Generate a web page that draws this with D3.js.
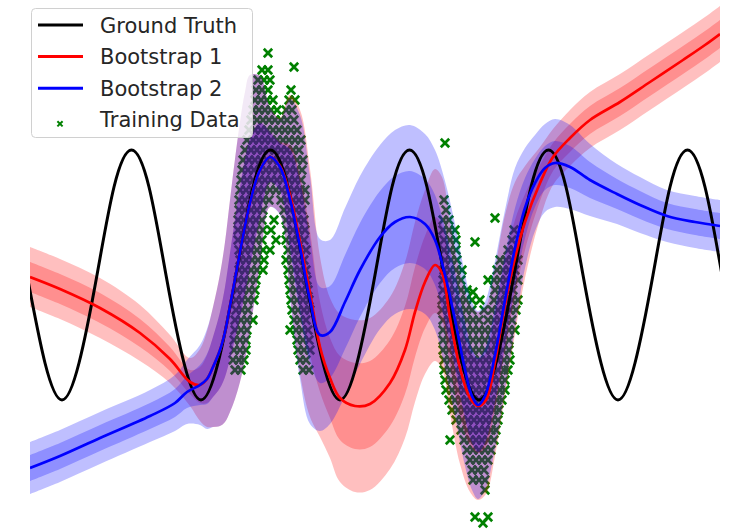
<!DOCTYPE html>
<html>
<head>
<meta charset="utf-8">
<script src="https://cdn.jsdelivr.net/npm/d3@7"></script>
<style>
  body { margin: 0; background: #fff; }
  svg { display: block; font-family: "DejaVu Sans", sans-serif; }
</style>
</head>
<body>
<div id="chart"></div>
<script>
// ground truth, sampled every eighth of a period
var truthX = [-3.48, -3.30, -3.13, -2.96, -2.78, -2.61, -2.435, -2.26, -2.09, -1.91, -1.74,
  -1.57, -1.39, -1.22, -1.045, -0.87, -0.70, -0.52, -0.35, -0.18, 0.00, 0.17, 0.345, 0.52,
  0.69, 0.87, 1.04, 1.21, 1.39, 1.56, 1.735, 1.91, 2.08, 2.26, 2.43, 2.60, 2.78, 2.95,
  3.125, 3.30, 3.47];
var truthY = [0, -0.88, -1.25, -0.88, 0, 0.88, 1.25, 0.88, 0, -0.88, -1.25,
  -0.88, 0, 0.88, 1.25, 0.88, 0, -0.88, -1.25, -0.88, 0, 0.88, 1.25, 0.88,
  0, -0.88, -1.25, -0.88, 0, 0.88, 1.25, 0.88, 0, -0.88, -1.25, -0.88, 0, 0.88,
  1.25, 0.88, 0];

// bootstrap 1 (red): mean and std
var boot1X = [-3.45, -3.15, -2.75, -2.35, -2.05, -1.85, -1.75, -1.68, -1.62, -1.55, -1.50,
  -1.45, -1.40, -1.35, -1.30, -1.25, -1.15, -1.05, -0.95, -0.85, -0.75, -0.65, -0.55,
  -0.45, -0.35, -0.20, -0.05, 0.15, 0.30, 0.40, 0.50, 0.60, 0.67, 0.75, 0.85, 0.95,
  1.03, 1.11, 1.20, 1.30, 1.40, 1.50, 1.65, 1.78, 1.95, 2.15, 2.45, 2.75, 3.08, 3.30, 3.45];
var boot1Mean = [-0.02, -0.14, -0.33, -0.58, -0.84, -1.07, -1.10, -1.04, -0.92, -0.75, -0.57,
  -0.31, -0.04, 0.23, 0.49, 0.72, 1.05, 1.18, 1.09, 0.80, 0.33, -0.18, -0.72,
  -1.03, -1.23, -1.31, -1.29, -1.08, -0.75, -0.37, -0.07, 0.10, 0.02, -0.43, -0.93, -1.23,
  -1.31, -1.25, -0.87, -0.30, 0.17, 0.53, 0.92, 1.18, 1.37, 1.55, 1.73, 1.93, 2.15, 2.30, 2.41];
var boot1Sd = [0.15, 0.15, 0.15, 0.14, 0.12, 0.12, 0.18, 0.24, 0.30, 0.38, 0.45,
  0.53, 0.60, 0.65, 0.67, 0.64, 0.47, 0.25, 0.24, 0.50, 0.66, 0.62, 0.45,
  0.40, 0.42, 0.43, 0.43, 0.43, 0.44, 0.45, 0.46, 0.48, 0.48, 0.48, 0.48, 0.47,
  0.47, 0.47, 0.47, 0.45, 0.38, 0.28, 0.18, 0.14, 0.14, 0.14, 0.14, 0.14, 0.14, 0.14, 0.14];

// bootstrap 2 (blue): mean and std
var boot2X = [-3.45, -3.15, -2.75, -2.25, -2.00, -1.88, -1.75, -1.68, -1.62, -1.55, -1.50,
  -1.45, -1.40, -1.35, -1.30, -1.25, -1.15, -1.05, -0.95, -0.85, -0.75, -0.65, -0.55,
  -0.45, -0.30, -0.15, 0.05, 0.20, 0.35, 0.50, 0.60, 0.70, 0.80, 0.90, 0.97, 1.03, 1.10,
  1.20, 1.30, 1.40, 1.50, 1.60, 1.70, 1.80, 1.95, 2.15, 2.42, 2.65, 2.92, 3.20, 3.45];
var boot2Mean = [-1.93, -1.81, -1.63, -1.41, -1.28, -1.17, -1.10, -1.04, -0.92, -0.75, -0.57,
  -0.31, -0.04, 0.23, 0.49, 0.72, 1.05, 1.18, 1.08, 0.76, 0.28, -0.25, -0.60,
  -0.57, -0.27, 0.05, 0.38, 0.53, 0.58, 0.51, 0.35, 0.00, -0.45, -0.95, -1.21, -1.30, -1.21,
  -0.80, -0.25, 0.27, 0.67, 0.92, 1.07, 1.12, 1.08, 0.95, 0.81, 0.70, 0.59, 0.53, 0.49];
var boot2Sd = [0.13, 0.13, 0.13, 0.13, 0.14, 0.16, 0.20, 0.25, 0.30, 0.38, 0.45,
  0.53, 0.60, 0.65, 0.67, 0.64, 0.47, 0.25, 0.24, 0.50, 0.66, 0.62, 0.48,
  0.46, 0.47, 0.47, 0.46, 0.46, 0.46, 0.45, 0.45, 0.47, 0.48, 0.48, 0.47, 0.47, 0.47,
  0.47, 0.45, 0.40, 0.30, 0.24, 0.22, 0.22, 0.21, 0.18, 0.15, 0.14, 0.13, 0.13, 0.13];

// training data, read row by row: [y, [x, x, ...]]
var trainRows1 = [
  [2.05, [-1.13, -1.07]],
  [1.95, [-1.17, -1.11, -1.05]],
  [1.85, [-1.19, -1.13, -1.07, -0.84]],
  [1.75, [-1.20, -1.14, -1.08, -1.02, -0.86, -0.80]],
  [1.65, [-1.22, -1.16, -1.10, -1.04, -0.98, -0.89, -0.83]],
  [1.55, [-1.24, -1.18, -1.12, -1.06, -1.00, -0.94, -0.88, -0.81]],
  [1.45, [-1.26, -1.20, -1.14, -1.08, -1.02, -0.96, -0.90, -0.84, -0.78]],
  [1.35, [-1.28, -1.22, -1.16, -1.10, -1.04, -0.98, -0.92, -0.86, -0.80, -0.74]],
  [1.25, [-1.30, -1.24, -1.18, -1.12, -1.06, -1.00, -0.94, -0.88, -0.82, -0.76]],
  [1.15, [-1.32, -1.26, -1.20, -1.14, -1.08, -1.02, -0.96, -0.90, -0.84, -0.78, -0.72]],
  [1.05, [-1.33, -1.27, -1.21, -1.15, -1.09, -1.03, -0.97, -0.91, -0.85, -0.79, -0.73]],
  [0.95, [-1.34, -1.28, -1.22, -1.16, -1.10, -1.04, -0.98, -0.92, -0.86, -0.80, -0.74]],
  [0.85, [-1.35, -1.29, -1.23, -1.17, -1.11, -1.05, -0.99, -0.93, -0.87, -0.81, -0.75, -0.70]],
  [0.75, [-1.36, -1.30, -1.24, -1.18, -1.12, -1.06, -0.94, -0.88, -0.82, -0.76, -0.70]],
  [0.65, [-1.36, -1.30, -1.24, -1.18, -1.12, -0.91, -0.85, -0.79, -0.73]],
  [0.55, [-1.37, -1.31, -1.25, -1.19, -1.13, -1.01, -0.89, -0.83, -0.77, -0.71]],
  [0.45, [-1.37, -1.31, -1.25, -1.19, -1.12, -1.04, -0.88, -0.82, -0.76, -0.70]],
  [0.35, [-1.37, -1.31, -1.25, -1.19, -1.13, -0.99, -0.89, -0.83, -0.77, -0.71]],
  [0.25, [-1.36, -1.30, -1.24, -1.18, -1.12, -1.05, -0.87, -0.81, -0.75, -0.69]],
  [0.15, [-1.35, -1.29, -1.23, -1.17, -1.11, -0.89, -0.83, -0.77, -0.71]],
  [0.05, [-1.36, -1.30, -1.24, -1.18, -1.12, -0.87, -0.81, -0.75, -0.69]],
  [-0.05, [-1.37, -1.31, -1.25, -1.19, -0.86, -0.80, -0.74, -0.68]],
  [-0.15, [-1.38, -1.32, -1.26, -1.20, -0.85, -0.79, -0.73, -0.67]],
  [-0.25, [-1.39, -1.33, -1.27, -1.21, -0.84, -0.78, -0.72, -0.66]],
  [-0.35, [-1.39, -1.33, -1.27, -0.83, -0.77, -0.71, -0.65]],
  [-0.45, [-1.40, -1.34, -1.28, -1.22, -0.81, -0.75, -0.69]],
  [-0.55, [-1.40, -1.34, -1.28, -0.85, -0.79, -0.73, -0.67]],
  [-0.65, [-1.41, -1.35, -1.29, -0.78, -0.72, -0.66]],
  [-0.75, [-1.41, -1.35, -1.29, -0.77, -0.71, -0.65]],
  [-0.85, [-1.42, -1.36, -1.31, -0.75, -0.69]],
  [-0.95, [-1.40, -1.34, -0.72, -0.66]]
];
var trainRows2 = [
  [0.75, [0.69]],
  [0.65, [0.71]],
  [0.55, [0.68, 0.74]],
  [0.45, [0.68, 0.74, 0.80, 1.39]],
  [0.35, [0.69, 0.75, 0.81, 1.37]],
  [0.25, [0.69, 0.75, 0.81, 1.33, 1.39]],
  [0.15, [0.70, 0.76, 0.82, 1.25, 1.31, 1.37, 1.43]],
  [0.05, [0.69, 0.75, 0.81, 0.87, 1.22, 1.28, 1.34, 1.40]],
  [-0.05, [0.68, 0.74, 0.80, 0.86, 1.13, 1.19, 1.25, 1.31, 1.37, 1.43]],
  [-0.15, [0.68, 0.74, 0.80, 0.86, 0.92, 1.20, 1.26, 1.32, 1.38]],
  [-0.25, [0.67, 0.73, 0.79, 0.85, 0.91, 0.97, 1.05, 1.19, 1.25, 1.31, 1.37, 1.43]],
  [-0.35, [0.67, 0.73, 0.79, 0.85, 0.91, 0.97, 1.09, 1.17, 1.23, 1.29, 1.35, 1.41]],
  [-0.45, [0.68, 0.74, 0.80, 0.86, 0.92, 0.98, 1.04, 1.13, 1.19, 1.25, 1.31, 1.37]],
  [-0.55, [0.68, 0.74, 0.80, 0.86, 0.92, 0.98, 1.04, 1.10, 1.16, 1.22, 1.28, 1.34, 1.40]],
  [-0.65, [0.68, 0.74, 0.80, 0.86, 0.92, 0.98, 1.04, 1.10, 1.16, 1.22, 1.28, 1.34]],
  [-0.75, [0.68, 0.74, 0.80, 0.86, 0.92, 0.98, 1.04, 1.10, 1.16, 1.22, 1.28, 1.34]],
  [-0.85, [0.69, 0.75, 0.81, 0.87, 0.93, 0.99, 1.05, 1.11, 1.17, 1.23, 1.29, 1.35]],
  [-0.95, [0.69, 0.75, 0.81, 0.87, 0.93, 0.99, 1.05, 1.11, 1.17, 1.23, 1.29, 1.33]],
  [-1.05, [0.70, 0.76, 0.82, 0.88, 0.94, 1.00, 1.06, 1.12, 1.18, 1.24, 1.30]],
  [-1.15, [0.71, 0.77, 0.83, 0.89, 0.95, 1.01, 1.07, 1.13, 1.19, 1.25, 1.30]],
  [-1.25, [0.74, 0.80, 0.86, 0.92, 0.98, 1.04, 1.10, 1.16, 1.22, 1.27]],
  [-1.35, [0.77, 0.83, 0.89, 0.95, 1.01, 1.07, 1.13, 1.19, 1.24]],
  [-1.45, [0.81, 0.87, 0.93, 0.99, 1.05, 1.11, 1.17, 1.23]],
  [-1.55, [0.86, 0.92, 0.98, 1.04, 1.10, 1.16, 1.21]],
  [-1.65, [0.75, 0.89, 0.95, 1.01, 1.07, 1.13, 1.19]],
  [-1.75, [0.92, 0.98, 1.04, 1.10, 1.16]],
  [-1.85, [0.95, 1.01, 1.07, 1.13]],
  [-1.95, [0.97, 1.03, 1.09]],
  [-2.05, [0.98, 1.04, 1.10]],
  [-2.15, [1.10]]
];
// isolated points
var trainExtra = [[-1.07, 2.22], [-0.81, 2.08], [0.70, 1.32], [1.20, 0.57], [1.00, 0.33],
  [0.98, -0.17], [1.00, -2.42], [1.08, -2.48], [1.13, -2.42]];

var legendLabels = ["Ground Truth", "Bootstrap 1", "Bootstrap 2", "Training Data"];
var legendColors = ["black", "red", "blue", "green"];

var width = 731,
  height = 530;

var svg = d3
  .select("#chart")
  .append("svg")
  .attr("width", width)
  .attr("height", height);

var x = d3.scaleLinear().domain([-3.45, 3.45]).range([30, 720]);
var y = d3.scaleLinear().domain([-2.55, 2.75]).range([530, 0]);
var smooth = d3.curveCatmullRom.alpha(0.5);

svg
  .append("clipPath")
  .attr("id", "plot-clip")
  .append("rect")
  .attr("x", 30)
  .attr("y", 0)
  .attr("width", 690)
  .attr("height", height);

var plot = svg.append("g").attr("clip-path", "url(#plot-clip)");

// training data first (lowest layer)
var trainPts = [];
trainRows1.concat(trainRows2).forEach(function (row) {
  row[1].forEach(function (xv) {
    trainPts.push([xv, row[0]]);
  });
});
trainExtra.forEach(function (p) {
  trainPts.push(p);
});

var xMark = function (s) {
  return "M" + -s + "," + -s + "L" + s + "," + s + "M" + -s + "," + s + "L" + s + "," + -s;
};

plot
  .append("g")
  .selectAll("path")
  .data(trainPts)
  .enter()
  .append("path")
  .attr("transform", function (d) {
    return "translate(" + x(d[0]) + "," + y(d[1]) + ")";
  })
  .attr("d", xMark(4.2))
  .attr("stroke", "green")
  .attr("stroke-width", 2.7)
  .attr("fill", "none");

// uncertainty bands (1 and 2 std)
function drawBands(xs, mean, sd, color) {
  var rows = xs.map(function (v, i) {
    return { x: v, m: mean[i], s: sd[i] };
  });
  [2, 1].forEach(function (k) {
    var area = d3
      .area()
      .curve(smooth)
      .x(function (d) {
        return x(d.x);
      })
      .y0(function (d) {
        return y(d.m - k * d.s);
      })
      .y1(function (d) {
        return y(d.m + k * d.s);
      });
    plot
      .append("path")
      .datum(rows)
      .attr("d", area)
      .attr("fill", color)
      .attr("fill-opacity", 0.25);
  });
}

drawBands(boot1X, boot1Mean, boot1Sd, "red");
drawBands(boot2X, boot2Mean, boot2Sd, "blue");

function drawLine(xs, ys, color, w, curve) {
  var line = d3
    .line()
    .curve(curve)
    .x(function (d) {
      return x(d[0]);
    })
    .y(function (d) {
      return y(d[1]);
    });
  plot
    .append("path")
    .datum(d3.zip(xs, ys))
    .attr("d", line)
    .attr("fill", "none")
    .attr("stroke", color)
    .attr("stroke-width", w);
}

drawLine(truthX, truthY, "black", 3, d3.curveNatural);
drawLine(boot1X, boot1Mean, "red", 2.7, smooth);
drawLine(boot2X, boot2Mean, "blue", 2.7, smooth);

// legend
var legend = svg.append("g").attr("class", "legend");

legend
  .append("rect")
  .attr("x", 31.5)
  .attr("y", 8.5)
  .attr("width", 221)
  .attr("height", 129)
  .attr("rx", 4)
  .attr("fill", "white")
  .attr("fill-opacity", 0.8)
  .attr("stroke", "#d0d0d0");

var ls_h = 31.6;

legendLabels.forEach(function (label, i) {
  var cy = 25 + ls_h * i;
  if (i < 3) {
    legend
      .append("line")
      .attr("x1", 38)
      .attr("x2", 83)
      .attr("y1", cy)
      .attr("y2", cy)
      .attr("stroke", legendColors[i])
      .attr("stroke-width", 3);
  } else {
    legend
      .append("path")
      .attr("transform", "translate(60," + (cy + 4) + ")")
      .attr("d", xMark(2.6))
      .attr("stroke", legendColors[i])
      .attr("stroke-width", 2);
  }
  legend
    .append("text")
    .attr("x", 100)
    .attr("y", cy)
    .attr("dy", "0.36em")
    .attr("font-size", 21)
    .attr("fill", "#262626")
    .text(label);
});
</script>
</body>
</html>
